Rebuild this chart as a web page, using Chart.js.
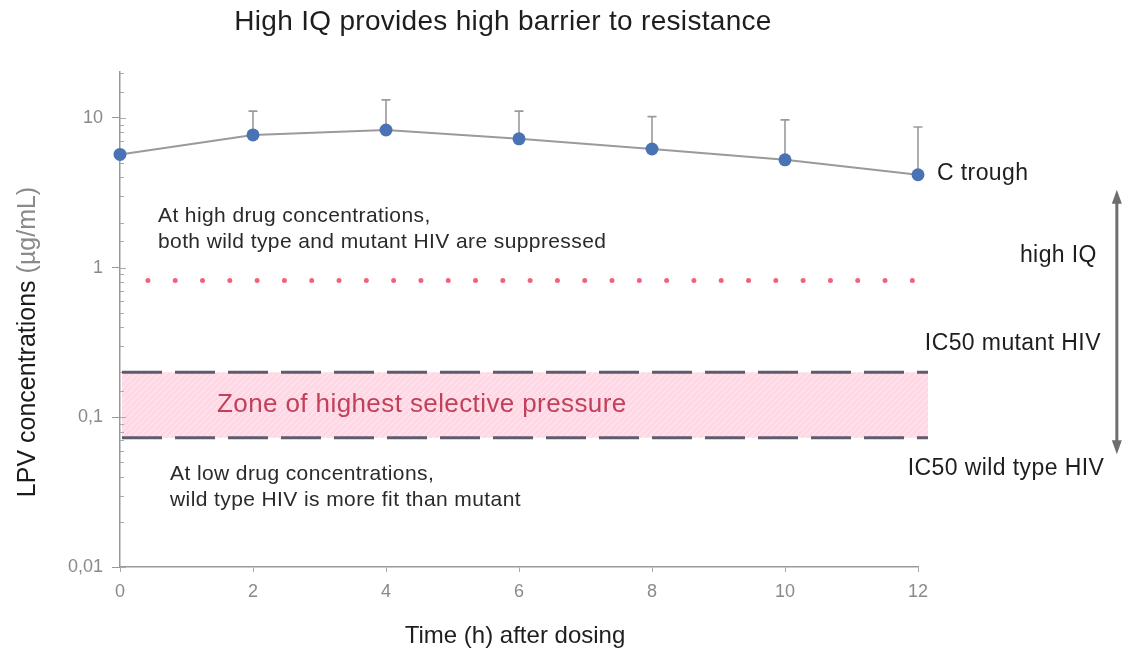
<!DOCTYPE html>
<html><head><meta charset="utf-8">
<script src="https://cdn.jsdelivr.net/npm/chart.js@4.4.1/dist/chart.umd.min.js"></script>
<style>html,body{margin:0;padding:0;background:#fff;}#wrap{width:1122px;height:654px;position:relative}</style>
</head><body><div id="wrap"><canvas id="c" width="1122" height="654"></canvas></div>
<script>
// ---- data ----
const hours = [0, 2, 4, 6, 8, 10, 12];
const meanConc = [5.7, 7.7, 8.3, 7.25, 6.2, 5.25, 4.17];
const upperConc = [null, 11.1, 13.2, 11.1, 10.2, 9.7, 8.7];
const ic50MutantLevel = 0.2;
const ic50WildLevel = 0.073;
const bandX = [0.03, 12.15];
const highConcLevel = 0.82;
const highConcX = [0.42, 11.95];
const xTicks = [0, 2, 4, 6, 8, 10, 12];
const yTickValues = [10, 1, 0.1, 0.01];
const yTickLabels = ['10', '1', '0,1', '0,01'];
const yRange = [0.01, 20.26];

// annotation texts (data coordinates)
const notes = [
  {t: 'At high drug concentrations,', x: 0.571, y: 2.19, align: 'left', size: 21, color: '#2a2a2a'},
  {t: 'both wild type and mutant HIV are suppressed', x: 0.571, y: 1.468, align: 'left', size: 21, color: '#2a2a2a'},
  {t: 'Zone of highest selective pressure', x: 1.459, y: 0.122, align: 'left', size: 26, color: '#c2405a'},
  {t: 'At low drug concentrations,', x: 0.752, y: 0.0417, align: 'left', size: 21, color: '#2a2a2a'},
  {t: 'wild type HIV is more fit than mutant', x: 0.752, y: 0.028, align: 'left', size: 21, color: '#2a2a2a'},
  {t: 'C trough', x: 12.286, y: 4.24, align: 'left', size: 23, color: '#1e1e1e'},
  {t: 'high IQ', x: 14.69, y: 1.2, align: 'right', size: 23, color: '#1e1e1e'},
  {t: 'IC50 mutant HIV', x: 14.75, y: 0.311, align: 'right', size: 23, color: '#1e1e1e'},
  {t: 'IC50 wild type HIV', x: 14.80, y: 0.0457, align: 'right', size: 23, color: '#1e1e1e'}
];
const arrowX = 14.99;
const arrowY = [3.31, 0.0567];

const FONT = '"Liberation Sans", Arial, sans-serif';

function makePattern() {
  const p = document.createElement('canvas');
  p.width = 6; p.height = 6;
  const g = p.getContext('2d');
  g.fillStyle = '#fcd9e5';
  g.fillRect(0, 0, 6, 6);
  g.strokeStyle = 'rgba(255,255,255,0.5)';
  g.lineWidth = 1;
  g.beginPath(); g.moveTo(0, 6); g.lineTo(6, 0); g.stroke();
  return document.getElementById('c').getContext('2d').createPattern(p, 'repeat');
}
const pattern = makePattern();

function isMajor(v) {
  return yTickValues.some(k => Math.abs(Math.log10(v) - Math.log10(k)) < 1e-6);
}
function labelFor(v) {
  for (let i = 0; i < yTickValues.length; i++) {
    if (Math.abs(Math.log10(v) - Math.log10(yTickValues[i])) < 1e-6) return yTickLabels[i];
  }
  return '';
}
function setSpacing(ctx, s) { if ('letterSpacing' in ctx) ctx.letterSpacing = s; }

const extras = {
  id: 'extras',
  beforeDatasetsDraw(chart) {
    const {ctx, scales: {x, y}} = chart;
    ctx.save();
    // band fill between the two IC50 levels
    const bx1 = x.getPixelForValue(bandX[0]), bx2 = x.getPixelForValue(bandX[1]);
    const by1 = y.getPixelForValue(ic50MutantLevel), by2 = y.getPixelForValue(ic50WildLevel);
    ctx.fillStyle = pattern;
    ctx.fillRect(bx1, by1, bx2 - bx1, by2 - by1);
    // error bars
    ctx.strokeStyle = '#9a9a9a';
    ctx.lineWidth = 1.6;
    hours.forEach((h, i) => {
      if (upperConc[i] == null) return;
      const px = x.getPixelForValue(h);
      const y1 = y.getPixelForValue(meanConc[i]);
      const y2 = y.getPixelForValue(upperConc[i]);
      ctx.beginPath();
      ctx.moveTo(px, y1); ctx.lineTo(px, y2);
      ctx.moveTo(px - 4.5, y2); ctx.lineTo(px + 4.5, y2);
      ctx.stroke();
    });
    // ticks on inner side of y axis
    ctx.strokeStyle = '#aaa';
    ctx.lineWidth = 1;
    y.ticks.forEach(t => {
      if (t.value > yRange[1] - 1e-6) return;
      const py = Math.round(y.getPixelForValue(t.value)) + 0.5;
      const major = isMajor(t.value);
      ctx.beginPath();
      ctx.moveTo(x.left, py);
      ctx.lineTo(x.left + (major ? 6 : 4), py);
      ctx.stroke();
    });
    ctx.restore();
  },
  afterDraw(chart) {
    const {ctx, scales: {x, y}} = chart;
    ctx.save();
    ctx.textBaseline = 'middle';
    // title
    ctx.fillStyle = '#1e1e1e';
    ctx.font = '28px ' + FONT;
    setSpacing(ctx, '0.3px');
    ctx.textAlign = 'center';
    ctx.fillText('High IQ provides high barrier to resistance', 503, 22);
    // annotations
    setSpacing(ctx, '0.4px');
    notes.forEach(n => {
      ctx.font = n.size + 'px ' + FONT;
      ctx.fillStyle = n.color;
      ctx.textAlign = n.align;
      ctx.fillText(n.t, x.getPixelForValue(n.x), y.getPixelForValue(n.y));
    });
    setSpacing(ctx, '0px');
    // x axis title
    ctx.font = '24px ' + FONT;
    ctx.fillStyle = '#1e1e1e';
    ctx.textAlign = 'center';
    ctx.fillText('Time (h) after dosing', (x.left + x.right) / 2 - 4, 636);
    // double arrow
    const ax = x.getPixelForValue(arrowX);
    const ay1 = y.getPixelForValue(arrowY[0]);
    const ay2 = y.getPixelForValue(arrowY[1]);
    ctx.strokeStyle = '#6e6e6e';
    ctx.fillStyle = '#6e6e6e';
    ctx.lineWidth = 3;
    ctx.beginPath(); ctx.moveTo(ax, ay1 + 10); ctx.lineTo(ax, ay2 - 10); ctx.stroke();
    ctx.beginPath(); ctx.moveTo(ax, ay1); ctx.lineTo(ax - 5, ay1 + 14); ctx.lineTo(ax + 5, ay1 + 14); ctx.closePath(); ctx.fill();
    ctx.beginPath(); ctx.moveTo(ax, ay2); ctx.lineTo(ax - 5, ay2 - 14); ctx.lineTo(ax + 5, ay2 - 14); ctx.closePath(); ctx.fill();
    // y axis title
    ctx.translate(28, 342);
    ctx.rotate(-Math.PI / 2);
    ctx.font = '25px ' + FONT;
    const a = 'LPV concentrations ', b = '(µg/mL)';
    const wa = ctx.measureText(a).width, wb = ctx.measureText(b).width;
    const start = -(wa + wb) / 2;
    ctx.textAlign = 'left';
    ctx.fillStyle = '#1a1a1a';
    ctx.fillText(a, start, 0);
    ctx.fillStyle = '#8a8a8a';
    ctx.fillText(b, start + wa, 0);
    ctx.restore();
  }
};

new Chart(document.getElementById('c'), {
  type: 'line',
  data: {
    datasets: [
      {
        data: bandX.map(v => ({x: v, y: ic50MutantLevel})),
        borderColor: '#5c5c6e', borderWidth: 3, borderDash: [40, 13],
        fill: false, pointRadius: 0, clip: false, order: 3
      },
      {
        data: bandX.map(v => ({x: v, y: ic50WildLevel})),
        borderColor: '#5c5c6e', borderWidth: 3, borderDash: [40, 13],
        fill: false, pointRadius: 0, clip: false, order: 3
      },
      {
        data: highConcX.map(v => ({x: v, y: highConcLevel})),
        borderColor: '#f2627f', borderWidth: 5, borderDash: [0, 27.3], borderCapStyle: 'round',
        fill: false, pointRadius: 0, order: 2
      },
      {
        data: hours.map((h, i) => ({x: h, y: meanConc[i]})),
        borderColor: '#9a9a9a', borderWidth: 2, tension: 0,
        pointRadius: 6.5, pointBackgroundColor: '#4a73b5', pointBorderColor: '#4a73b5',
        pointBorderWidth: 0, fill: false, order: 1, clip: false
      }
    ]
  },
  options: {
    responsive: false,
    animation: false,
    devicePixelRatio: 1,
    layout: {padding: {top: 72, right: 204, left: 0, bottom: 0}},
    plugins: {legend: {display: false}, title: {display: false}, tooltip: {enabled: false}},
    scales: {
      x: {
        type: 'linear', min: 0, max: 12,
        afterFit(s) { s.height = 87; },
        afterBuildTicks(s) { s.ticks = xTicks.map(v => ({value: v})); },
        border: {color: '#999', width: 1.5},
        grid: {drawOnChartArea: false, tickLength: 5, tickColor: '#aaa'},
        ticks: {color: '#8a8a8a', font: {family: FONT, size: 18}, padding: 9}
      },
      y: {
        type: 'logarithmic', min: yRange[0], max: yRange[1],
        afterFit(s) { s.width = 120; },
        border: {color: '#999', width: 1.5},
        grid: {drawOnChartArea: false, tickLength: 8,
               tickColor: c => (c.tick && isMajor(c.tick.value)) ? '#999' : 'rgba(0,0,0,0)'},
        ticks: {autoSkip: false, color: '#8a8a8a', font: {family: FONT, size: 18}, padding: 9,
                callback: v => labelFor(v)}
      }
    }
  },
  plugins: [extras]
});
</script>
</body></html>
